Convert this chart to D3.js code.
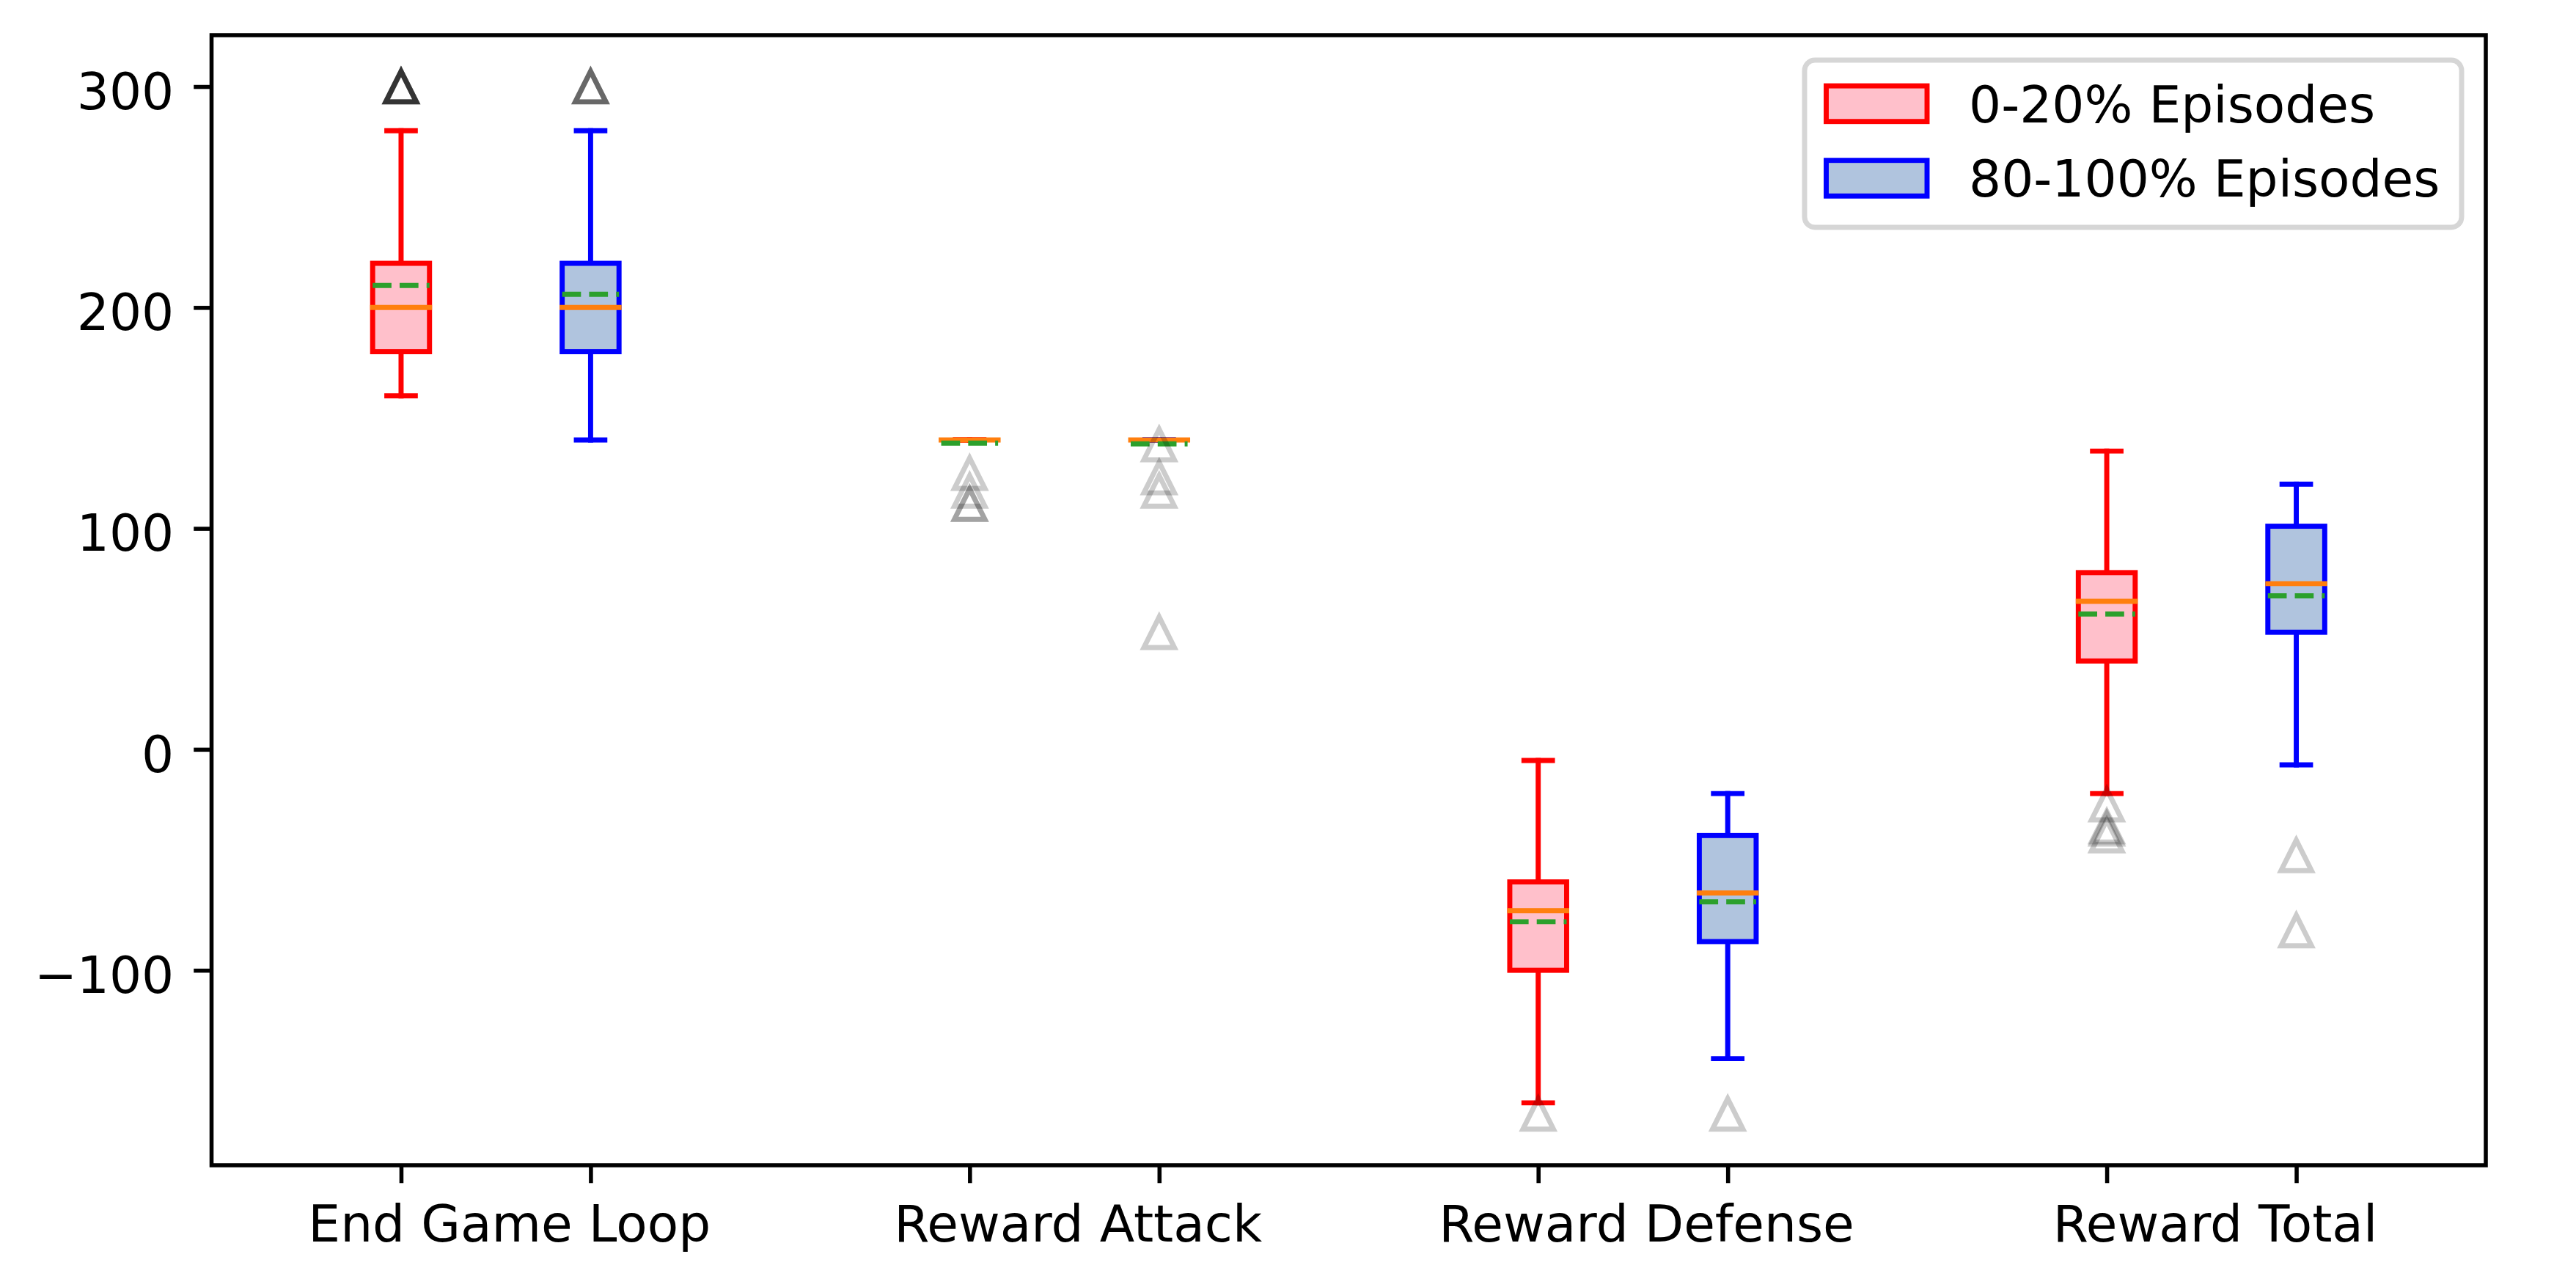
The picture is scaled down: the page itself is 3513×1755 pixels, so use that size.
<!DOCTYPE html>
<html>
<head>
<meta charset="utf-8">
<script src="https://cdn.jsdelivr.net/npm/d3@7"></script>
<style>
  html, body { margin: 0; padding: 0; background: #fff; }
  svg { display: block; }
</style>
</head>
<body>
<script>
// ---------------- data ----------------
const categories = ["End Game Loop", "Reward Attack", "Reward Defense", "Reward Total"];
const seriesNames = ["0-20% Episodes", "80-100% Episodes"];
const yTicks = [-100, 0, 100, 200, 300];

// 0-20% Episodes
const earlyWhiskerLow  = [160, 140, -160, -20];
const earlyQ1          = [180, 140, -100, 40];
const earlyMedian      = [200, 140, -73, 67];
const earlyQ3          = [220, 140, -60, 80];
const earlyWhiskerHigh = [280, 140, -5, 135];
const earlyMean        = [210, 138.6, -78, 61.3];
const earlyOutliers    = [
  [300, 300, 300, 300, 300, 300, 300],
  [125, 117, 111, 111],
  [-165],
  [-25, -35, -36, -39]
];

// 80-100% Episodes
const lateWhiskerLow  = [140, 140, -140, -7];
const lateQ1          = [180, 140, -87, 53];
const lateMedian      = [200, 140, -65, 75];
const lateQ3          = [220, 140, -39, 101];
const lateWhiskerHigh = [280, 140, -20, 120];
const lateMean        = [206, 138.3, -69, 69.5];
const lateOutliers    = [
  [300, 300, 300, 300],
  [138, 123, 117, 53],
  [-165],
  [-48, -82]
];

// ---------------- layout ----------------
const W = 3513, H = 1755;
const PT = 6.94;            // px per point
const FS = 10 * PT;         // 10pt font
const plot = { left: 288.5, right: 3390, top: 48, bottom: 1589 };

const seriesStyle = [
  { edge: "#ff0000", fill: "#ffc0cb" },
  { edge: "#0000ff", fill: "#b0c4de" }
];

const series = [
  { lo: earlyWhiskerLow, q1: earlyQ1, med: earlyMedian, q3: earlyQ3, hi: earlyWhiskerHigh, mean: earlyMean, out: earlyOutliers },
  { lo: lateWhiskerLow,  q1: lateQ1,  med: lateMedian,  q3: lateQ3,  hi: lateWhiskerHigh,  mean: lateMean,  out: lateOutliers }
];

const x = d3.scaleLinear().domain([0, 12]).range([plot.left, plot.right]);
const y = d3.scaleLinear().domain([-188.25, 323.25]).range([plot.bottom, plot.top]);

const boxW = 0.3, capW = 0.15;
const lw = 1 * PT;

const svg = d3.select("body").append("svg")
  .attr("width", W).attr("height", H)
  .attr("viewBox", `0 0 ${W} ${H}`)
  .style("font-family", "'DejaVu Sans', sans-serif");

svg.append("rect").attr("width", W).attr("height", H).attr("fill", "#fff");

const gPlot = svg.append("g");

const boxPositions = [];
series.forEach((s, si) => {
  const st = seriesStyle[si];
  const g = gPlot.append("g").attr("class", "series-" + si);
  categories.forEach((c, i) => {
    const p = 3 * i + 1 + si;
    boxPositions.push(p);
    const cx = x(p);
    const half = x(p + boxW / 2) - cx;
    const capHalf = x(p + capW / 2) - cx;
    // whiskers
    g.append("line").attr("x1", cx).attr("x2", cx).attr("y1", y(s.q1[i])).attr("y2", y(s.lo[i]))
      .attr("stroke", st.edge).attr("stroke-width", lw).attr("stroke-linecap", "square");
    g.append("line").attr("x1", cx).attr("x2", cx).attr("y1", y(s.q3[i])).attr("y2", y(s.hi[i]))
      .attr("stroke", st.edge).attr("stroke-width", lw).attr("stroke-linecap", "square");
    // caps
    [s.lo[i], s.hi[i]].forEach(v => {
      g.append("line").attr("x1", cx - capHalf).attr("x2", cx + capHalf).attr("y1", y(v)).attr("y2", y(v))
        .attr("stroke", st.edge).attr("stroke-width", lw).attr("stroke-linecap", "square");
    });
    // box
    g.append("rect")
      .attr("x", cx - half).attr("width", 2 * half)
      .attr("y", y(s.q3[i])).attr("height", Math.max(0, y(s.q1[i]) - y(s.q3[i])))
      .attr("fill", st.fill).attr("stroke", st.edge).attr("stroke-width", lw)
      .attr("stroke-linejoin", "miter");
    // median
    g.append("line").attr("x1", cx - half).attr("x2", cx + half).attr("y1", y(s.med[i])).attr("y2", y(s.med[i]))
      .attr("stroke", "#ff7f0e").attr("stroke-width", lw).attr("stroke-linecap", "square");
    // mean (dashed)
    g.append("line").attr("x1", cx - half).attr("x2", cx + half).attr("y1", y(s.mean[i])).attr("y2", y(s.mean[i]))
      .attr("stroke", "#2ca02c").attr("stroke-width", lw)
      .attr("stroke-dasharray", `${3.7 * lw} ${1.6 * lw}`).attr("stroke-linecap", "butt");
    // fliers
    const ms = 6 * PT / 2;
    s.out[i].forEach(v => {
      const cy = y(v);
      g.append("path")
        .attr("d", `M${cx},${cy - ms} L${cx - ms},${cy + ms} L${cx + ms},${cy + ms} Z`)
        .attr("fill", "none").attr("stroke", "#000").attr("stroke-opacity", 0.2)
        .attr("stroke-width", lw).attr("stroke-linejoin", "miter");
    });
  });
});

// ---------------- axes ----------------
const axisW = 0.8 * PT;
const tickLen = 3.5 * PT;

const yAxis = svg.append("g").attr("transform", `translate(${plot.left},0)`)
  .call(d3.axisLeft(y).tickValues(yTicks).tickFormat(d3.format("d"))
        .tickSize(tickLen).tickPadding(27).tickSizeOuter(0));
yAxis.select(".domain").remove();
yAxis.selectAll(".tick line").attr("stroke", "#000").attr("stroke-width", axisW);
yAxis.selectAll(".tick text").attr("fill", "#000").attr("font-size", FS)
  .attr("font-family", "'DejaVu Sans', sans-serif").attr("dy", "0.437em");

const xAxis = svg.append("g").attr("transform", `translate(0,${plot.bottom})`)
  .call(d3.axisBottom(x).tickValues(boxPositions.slice().sort((a, b) => a - b)).tickFormat("")
        .tickSize(tickLen).tickSizeOuter(0));
xAxis.select(".domain").remove();
xAxis.selectAll(".tick line").attr("stroke", "#000").attr("stroke-width", axisW);

const groupCenters = categories.map((c, i) => 3 * i + 1.5 + 0.07);
const xLab = svg.append("g").attr("transform", `translate(0,${plot.bottom})`)
  .call(d3.axisBottom(x).tickValues(groupCenters).tickFormat((d, i) => categories[i])
        .tickSize(0).tickPadding(54.7).tickSizeOuter(0));
xLab.select(".domain").remove();
xLab.selectAll(".tick line").remove();
xLab.selectAll(".tick text").attr("fill", "#000").attr("font-size", FS)
  .attr("font-family", "'DejaVu Sans', sans-serif");

// frame (spines)
svg.append("rect")
  .attr("x", plot.left).attr("y", plot.top)
  .attr("width", plot.right - plot.left).attr("height", plot.bottom - plot.top)
  .attr("fill", "none").attr("stroke", "#000").attr("stroke-width", axisW);

// ---------------- legend ----------------
const leg = svg.append("g");
leg.append("rect")
  .attr("x", 2461).attr("y", 82).attr("width", 896).attr("height", 228)
  .attr("rx", 14).attr("ry", 14)
  .attr("fill", "#fff").attr("fill-opacity", 0.8)
  .attr("stroke", "#d6d6d6").attr("stroke-width", lw);
const legBaselines = [166.7, 268.3];
seriesNames.forEach((name, i) => {
  const st = seriesStyle[i];
  const bl = legBaselines[i];
  leg.append("rect")
    .attr("x", 2490.5).attr("y", bl - 25.3 - 24.3).attr("width", 137.5).attr("height", 48.6)
    .attr("fill", st.fill).attr("stroke", st.edge).attr("stroke-width", lw);
  leg.append("text")
    .attr("x", 2685).attr("y", bl)
    .attr("font-size", FS).attr("fill", "#000")
    .attr("font-family", "'DejaVu Sans', sans-serif")
    .text(name);
});
</script>
</body>
</html>
